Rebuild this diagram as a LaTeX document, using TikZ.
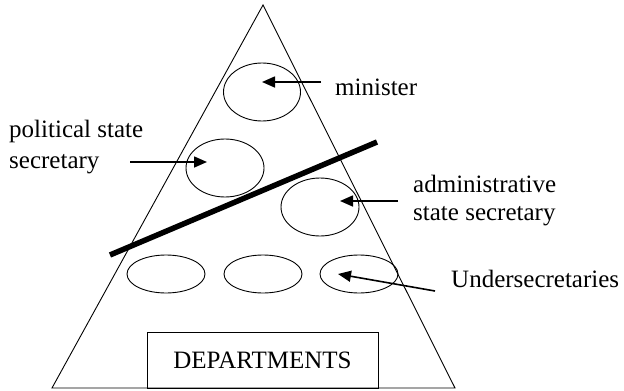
\documentclass[tikz,border=0pt]{standalone}
\usepackage{fontspec}
\setmainfont{Liberation Serif}
\usetikzlibrary{shapes.geometric,arrows.meta}
\begin{document}
\begin{tikzpicture}[x=1pt,y=-1pt,
  post/.style={draw,ellipse,line width=0.9pt,inner sep=0pt},
  pointer/.style={line width=1.6pt,-{Triangle[length=13pt,width=11pt]}},
  lbl/.style={font=\fontsize{25}{30}\selectfont,inner sep=0pt,align=left}]
\useasboundingbox (0,0) rectangle (624,391);
% pyramid outline
\coordinate (apex) at (263,5);
\coordinate (bl) at (52,388);
\coordinate (br) at (455,388);
\draw[line width=0.9pt] (apex) -- (bl) -- (br) -- cycle;
% posts
\node[post,minimum width=77pt,minimum height=58pt] (min) at (262,92) {};
\node[post,minimum width=78pt,minimum height=58pt] (pol) at (225,168) {};
\node[post,minimum width=78pt,minimum height=58pt] (adm) at (320,207) {};
\node[post,minimum width=78pt,minimum height=38pt] (u1) at (166,274) {};
\node[post,minimum width=78pt,minimum height=38pt] (u2) at (263,274) {};
\node[post,minimum width=78pt,minimum height=38pt] (u3) at (359,274) {};
% departments box on the base
\node[draw,line width=0.9pt,minimum width=231pt,minimum height=56pt,inner sep=0pt,
      font=\fontsize{25}{30}\selectfont] (dep) at (262.5,360) {DEPARTMENTS};
% dividing bar between political and administrative levels
\coordinate (barA) at (110,255);
\coordinate (barB) at (377,142);
\draw[line width=5.5pt] (barA) -- (barB);
% labels
\node[lbl,anchor=base west] (tmin) at (335,95) {minister};
\node[lbl,anchor=base west] (tpol1) at (9,137) {political state};
\node[lbl,anchor=base west] (tpol2) at (9,168) {secretary};
\node[lbl,anchor=base west] (tadm1) at (413,192) {administrative};
\node[lbl,anchor=base west] (tadm2) at (413,220) {state secretary};
\node[lbl,anchor=base west] (tund) at (451,287) {Undersecretaries};
% arrows
\coordinate (amin) at (321,82);
\coordinate (apol) at (130,162);
\coordinate (aadm) at (398,201);
\coordinate (aund) at (435,291);
\draw[pointer] (amin) -- ([shift={(0pt,10pt)}]min.center);
\draw[pointer] (apol) -- ([shift={(-18pt,6pt)}]pol.center);
\draw[pointer] (aadm) -- ([shift={(20pt,6pt)}]adm.center);
\draw[pointer] (aund) -- ([shift={(-21pt,0pt)}]u3.center);
\end{tikzpicture}
\end{document}
